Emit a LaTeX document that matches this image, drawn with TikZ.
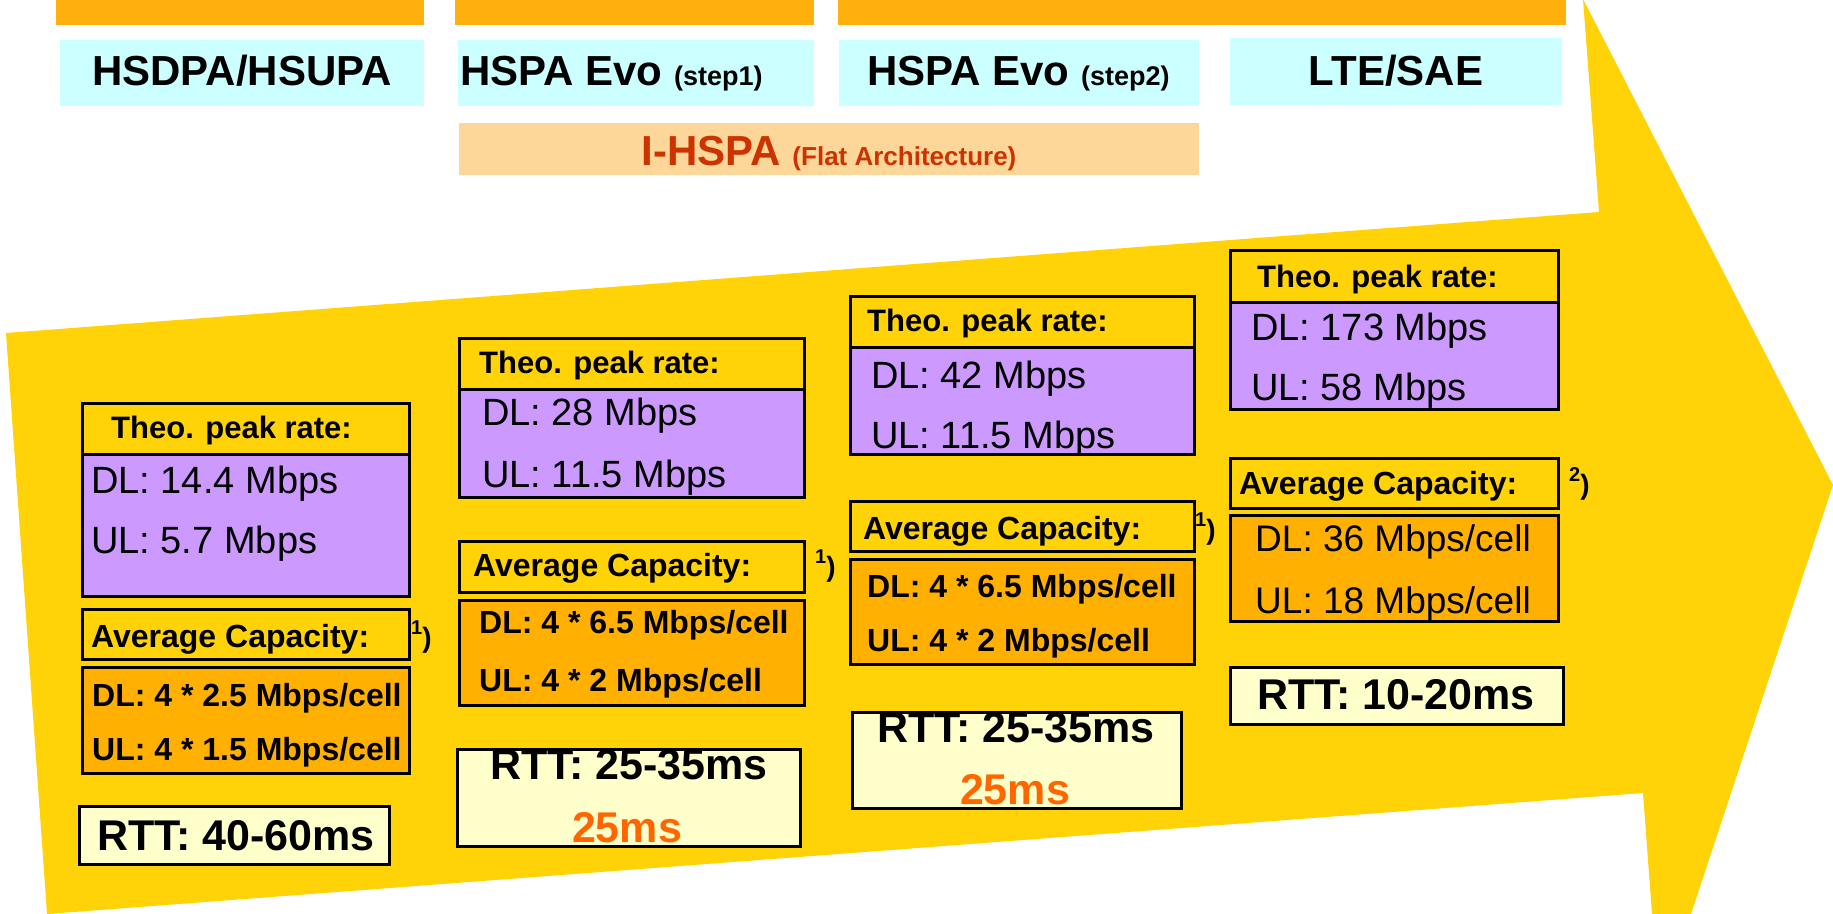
\documentclass[tikz,border=0pt]{standalone}
\usepackage{fontspec}
\setmainfont{Liberation Sans}
\usetikzlibrary{positioning}
\definecolor{ArrowYellow}{RGB}{255,211,8}
\definecolor{BarOrange}{RGB}{255,176,12}
\definecolor{EraCyan}{RGB}{204,255,255}
\definecolor{FlatPeach}{RGB}{253,214,154}
\definecolor{FlatRed}{RGB}{204,51,0}
\definecolor{RatePurple}{RGB}{204,153,255}
\definecolor{CapOrange}{RGB}{255,176,0}
\definecolor{RttCream}{RGB}{255,255,204}
\definecolor{LatOrange}{RGB}{255,102,0}
\newcommand{\fsz}[1]{\fontsize{#1}{#1}\selectfont}
\tikzset{
  plainbox/.style={anchor=north west,inner sep=0pt,outer sep=0pt},
  barbox/.style={plainbox,fill=BarOrange},
  erabox/.style={plainbox,fill=EraCyan},
  framed/.style={plainbox,draw=black,line width=3pt},
  headbox/.style={framed,fill=ArrowYellow},
  ratebox/.style={framed,fill=RatePurple},
  capbox/.style={framed,fill=CapOrange},
  rttbox/.style={framed,fill=RttCream},
  txt/.style={anchor=base west,inner sep=0pt},
  ctxt/.style={anchor=base,inner sep=0pt},
  eratxt/.style={txt,font=\bfseries\fsz{42}},
  headtxt/.style={txt,font=\bfseries\fsz{31}},
  ratetxt/.style={txt,font=\fsz{38}},
  captxt/.style={txt,font=\bfseries\fsz{32}},
  rtttxt/.style={ctxt,font=\bfseries\fsz{43}},
  fnote/.style={txt,font=\bfseries\fsz{28}},
}
\newcommand{\fnmark}[1]{\raisebox{13pt}{\fsz{20}#1})}

\begin{document}
\begin{tikzpicture}[x=1pt,y=-1pt]
\useasboundingbox (0,0) rectangle (1833,913);
% big arrow
\fill[ArrowYellow] (6,333) -- (1599,212) -- (1583,-1) -- (1833,485) -- (1691,914)
  -- (1652,914) -- (1643,793) -- (47,914) -- cycle;
% bars and eras
\node[barbox,minimum width=368pt,minimum height=25pt] (bar1) at (56,0) {};
\node[barbox,minimum width=359pt,minimum height=25pt] (bar2) at (455,0) {};
\node[barbox,minimum width=728pt,minimum height=25pt] (bar3) at (838,0) {};
\node[erabox,minimum width=364pt,minimum height=66pt] (hsdpa) at (60,40) {};
\node[erabox,minimum width=356pt,minimum height=66pt] (evo1) at (458,40) {};
\node[erabox,minimum width=360pt,minimum height=66pt] (evo2) at (839,40) {};
\node[erabox,minimum width=332pt,minimum height=67pt] (lte) at (1230,38) {};
\node[plainbox,fill=FlatPeach,minimum width=740pt,minimum height=52pt] (ihspa) at (459,123) {};
\node[eratxt,anchor=base] (hsdpat) at (242,85) {HSDPA/HSUPA};
\node[eratxt] (evo1t) at (460,85) {HSPA Evo {\fsz{27}(step1)}};
\node[eratxt] (evo2t) at (867,85) {HSPA Evo {\fsz{27}(step2)}};
\node[eratxt,anchor=base] (ltet) at (1396,85) {LTE/SAE};
\node[ctxt,font=\bfseries\fsz{42},text=FlatRed] (ihspat) at (829,165) {I-HSPA {\fsz{26}(Flat Architecture)}};

% column 1
\node[headbox,minimum width=327pt,minimum height=51pt] (peak1) at (82,403) {};
\node[ratebox,minimum width=327pt,minimum height=142pt] (rate1) at (82,454) {};
\node[headtxt] (peak1t) at (111,438) {Theo. peak rate:};
\node[ratetxt] (dl1) at (91,493) {DL: 14.4 Mbps};
\node[ratetxt] (ul1) at (91,553) {UL: 5.7 Mbps};
\node[headbox,minimum width=327pt,minimum height=50pt] (avg1) at (82,609) {};
\node[captxt] (avg1t) at (91,647) {Average Capacity:};
\node[fnote] (fn1) at (411,647) {\fnmark{1}};
\node[capbox,minimum width=327pt,minimum height=106pt] (cap1) at (82,667) {};
\node[captxt] (cdl1) at (92,706) {DL: 4 * 2.5 Mbps/cell};
\node[captxt] (cul1) at (92,760) {UL: 4 * 1.5 Mbps/cell};
\node[rttbox,minimum width=310pt,minimum height=58pt] (rtt1) at (79,806) {};
\node[rtttxt] (rtt1t) at (236,850) {RTT: 40-60ms};

% column 2
\node[headbox,minimum width=345pt,minimum height=51pt] (peak2) at (459,338) {};
\node[ratebox,minimum width=345pt,minimum height=108pt] (rate2) at (459,389) {};
\node[headtxt] (peak2t) at (479,373) {Theo. peak rate:};
\node[ratetxt] (dl2) at (482,425) {DL: 28 Mbps};
\node[ratetxt] (ul2) at (482,487) {UL: 11.5 Mbps};
\node[headbox,minimum width=345pt,minimum height=51pt] (avg2) at (459,541) {};
\node[captxt] (avg2t) at (473,576) {Average Capacity:};
\node[fnote] (fn2) at (815,576) {\fnmark{1}};
\node[capbox,minimum width=345pt,minimum height=105pt] (cap2) at (459,600) {};
\node[captxt] (cdl2) at (479,633) {DL: 4 * 6.5 Mbps/cell};
\node[captxt] (cul2) at (479,691) {UL: 4 * 2 Mbps/cell};
\node[rttbox,minimum width=343pt,minimum height=97pt] (rtt2) at (457,749) {};
\node[rtttxt] (rtt2t) at (629,779) {RTT: 25-35ms};
\node[rtttxt,text=LatOrange] (lat2) at (627,842) {25ms};

% column 3
\node[headbox,minimum width=344pt,minimum height=51pt] (peak3) at (850,296) {};
\node[ratebox,minimum width=344pt,minimum height=107pt] (rate3) at (850,347) {};
\node[headtxt] (peak3t) at (867,331) {Theo. peak rate:};
\node[ratetxt] (dl3) at (871,388) {DL: 42 Mbps};
\node[ratetxt] (ul3) at (871,448) {UL: 11.5 Mbps};
\node[headbox,minimum width=344pt,minimum height=50pt] (avg3) at (850,501) {};
\node[captxt] (avg3t) at (863,539) {Average Capacity:};
\node[fnote] (fn3) at (1195,539) {\fnmark{1}};
\node[capbox,minimum width=344pt,minimum height=105pt] (cap3) at (850,559) {};
\node[captxt] (cdl3) at (867,597) {DL: 4 * 6.5 Mbps/cell};
\node[captxt] (cul3) at (867,651) {UL: 4 * 2 Mbps/cell};
\node[rttbox,minimum width=329pt,minimum height=96pt] (rtt3) at (852,712) {};
\node[rtttxt] (rtt3t) at (1016,742) {RTT: 25-35ms};
\node[rtttxt,text=LatOrange] (lat3) at (1015,804) {25ms};

% column 4
\node[headbox,minimum width=328pt,minimum height=52pt] (peak4) at (1230,250) {};
\node[ratebox,minimum width=328pt,minimum height=107pt] (rate4) at (1230,302) {};
\node[headtxt] (peak4t) at (1257,287) {Theo. peak rate:};
\node[ratetxt] (dl4) at (1251,340) {DL: 173 Mbps};
\node[ratetxt] (ul4) at (1251,400) {UL: 58 Mbps};
\node[headbox,minimum width=328pt,minimum height=50pt] (avg4) at (1230,458) {};
\node[captxt] (avg4t) at (1239,494) {Average Capacity:};
\node[fnote] (fn4) at (1569,494) {\fnmark{2}};
\node[capbox,minimum width=328pt,minimum height=106pt] (cap4) at (1230,515) {};
\node[ratetxt,font=\fsz{37}] (cdl4) at (1255,551) {DL: 36 Mbps/cell};
\node[ratetxt,font=\fsz{37}] (cul4) at (1255,613) {UL: 18 Mbps/cell};
\node[rttbox,minimum width=333pt,minimum height=57pt] (rtt4) at (1230,667) {};
\node[rtttxt] (rtt4t) at (1396,709) {RTT: 10-20ms};
\end{tikzpicture}
\end{document}
